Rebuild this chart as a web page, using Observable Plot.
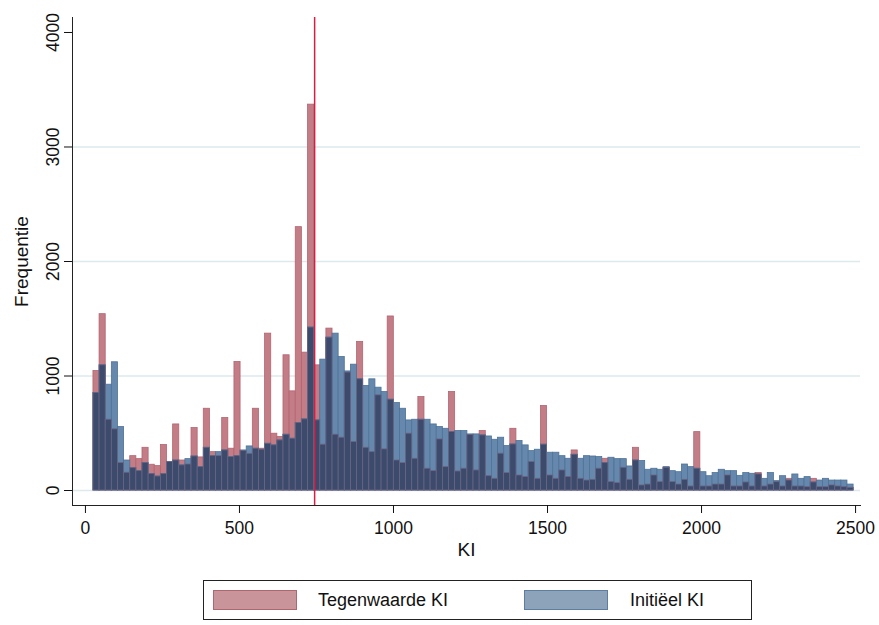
<!DOCTYPE html>
<html>
<head>
<meta charset="utf-8">
<script src="https://cdn.jsdelivr.net/npm/d3@7"></script>
<script src="https://cdn.jsdelivr.net/npm/@observablehq/plot@0.6"></script>
<style>
  html, body { margin: 0; padding: 0; background: #fff; }
  #wrap { position: relative; width: 879px; height: 625px; font-family: "Liberation Sans", Arial, sans-serif; }
  #legend { position: absolute; left: 203px; top: 580px; width: 547px; height: 38px; border: 1px solid #222; background: #fff; }
  .sw { position: absolute; top: 9px; width: 82px; height: 18px; }
  .lt { position: absolute; top: 0; line-height: 38px; font-size: 18px; color: #111; }
</style>
</head>
<body>
<div id="wrap">
  <div id="chart"></div>
  <div id="legend">
    <div class="sw" style="left:9px;background:#C9959B;border:1px solid #B0666F;"></div>
    <div class="lt" style="left:114px;">Tegenwaarde KI</div>
    <div class="sw" style="left:320px;background:#8DA3B9;border:1px solid #5D7EA0;"></div>
    <div class="lt" style="left:426px;">Initiëel KI</div>
  </div>
</div>
<script>
// Histogram bins (KI): 124 bins of width ~19.9 starting at 26
const binStart = 26;
const binWidth = 19.9;

// Frequencies per bin: "Tegenwaarde KI"
const tegenwaarde = [
  1044, 1540, 618, 534, 239, 155, 300, 274, 373, 225,
  213, 397, 250, 577, 262, 227, 545, 289, 714, 335,
  300, 633, 365, 1123, 345, 320, 714, 365, 1370, 496,
  467, 1181, 866, 2300, 1204, 3370, 1093, 400, 1414, 487,
  461, 1030, 423, 1298, 373, 335, 831, 359, 1520, 262,
  239, 496, 277, 816, 190, 169, 446, 204, 860, 166,
  190, 485, 175, 519, 125, 102, 321, 152, 539, 131,
  117, 248, 102, 738, 131, 102, 175, 117, 350, 102,
  87, 93, 190, 277, 73, 64, 198, 93, 373, 44,
  52, 131, 73, 198, 73, 52, 93, 35, 510, 35,
  35, 52, 52, 131, 35, 35, 70, 35, 152,
  35, 52, 73, 35, 102, 35, 35, 29, 102, 29,
  29, 44, 35, 29, 23
];

// Frequencies per bin: "Initiëel KI"
const initieel = [
  851, 1093, 924, 1120, 554, 262, 195, 169, 239, 143,
  122, 143, 248, 262, 219, 274, 297, 204, 373, 300,
  335, 350, 292, 300, 350, 385, 365, 356, 408, 394,
  437, 487, 452, 589, 621, 1423, 612, 1143, 1335, 1370,
  1166, 1040, 1099, 971, 913, 971, 898, 860, 793, 764,
  714, 612, 618, 618, 618, 577, 554, 539, 510, 519,
  519, 490, 490, 481, 472, 443, 461, 388, 402, 432,
  394, 344, 356, 400, 330, 330, 300, 277, 312, 277,
  300, 297, 292, 239, 286, 274, 274, 210, 262, 257,
  181, 190, 181, 204, 169, 160, 227, 204, 190, 160,
  125, 152, 181, 169, 169, 128, 152, 146, 140,
  102, 152, 82, 125, 87, 140, 102, 117, 70, 87,
  102, 87, 87, 87, 52
];

const meanKI = 744;
const xTicks = [0, 500, 1000, 1500, 2000, 2500];
const yTicks = [0, 1000, 2000, 3000, 4000];
const gridTicks = [0, 1000, 2000, 3000];

const bins = tegenwaarde.map((v, i) => ({
  x1: binStart + i * binWidth,
  x2: binStart + (i + 1) * binWidth,
  red: v,
  blue: initieel[i],
  both: Math.min(v, initieel[i])
}));

const chart = Plot.plot({
  width: 879,
  height: 572,
  marginLeft: 72,
  marginRight: 19,
  marginTop: 17,
  marginBottom: 67,
  style: { fontFamily: "Liberation Sans, Arial, sans-serif", color: "#111", background: "#fff" },
  x: { domain: [-42, 2516] },
  y: { domain: [-131, 4131] },
  marks: [
    Plot.gridY(gridTicks, { stroke: "#DDE9EC", strokeOpacity: 1, strokeWidth: 1.5 }),
    Plot.rectY(bins, { x1: "x1", x2: "x2", y: "red", fill: "#C27D86", stroke: "#B4646F", strokeWidth: 0.8 }),
    Plot.rectY(bins, { x1: "x1", x2: "x2", y: "blue", fill: "#6588AC", stroke: "#4E7298", strokeWidth: 0.8 }),
    Plot.rectY(bins, { x1: "x1", x2: "x2", y: "both", fill: "#3C4A6C", stroke: "#6A6584", strokeWidth: 0.8 }),
    Plot.ruleX([meanKI], { stroke: "#D41E44", strokeWidth: 1.5 }),
    Plot.frame({ anchor: "left", stroke: "#222" }),
    Plot.frame({ anchor: "bottom", stroke: "#222" }),
    Plot.axisX({ ticks: xTicks, tickSize: 8, tickPadding: 8, fontSize: 17.5, label: "KI", labelAnchor: "center", labelArrow: "none", labelOffset: 50, tickFormat: d => String(d) }),
    Plot.axisY({ ticks: yTicks, tickSize: 8, tickPadding: 6, fontSize: 17.5, tickRotate: -90, label: "Frequentie", labelAnchor: "center", labelArrow: "none", labelOffset: 58, tickFormat: d => String(d) })
  ]
});
chart.querySelectorAll("[aria-label='x-axis label'] text, [aria-label='y-axis label'] text").forEach(t => t.style.fontSize = "19px");
document.getElementById("chart").appendChild(chart);
</script>
</body>
</html>
